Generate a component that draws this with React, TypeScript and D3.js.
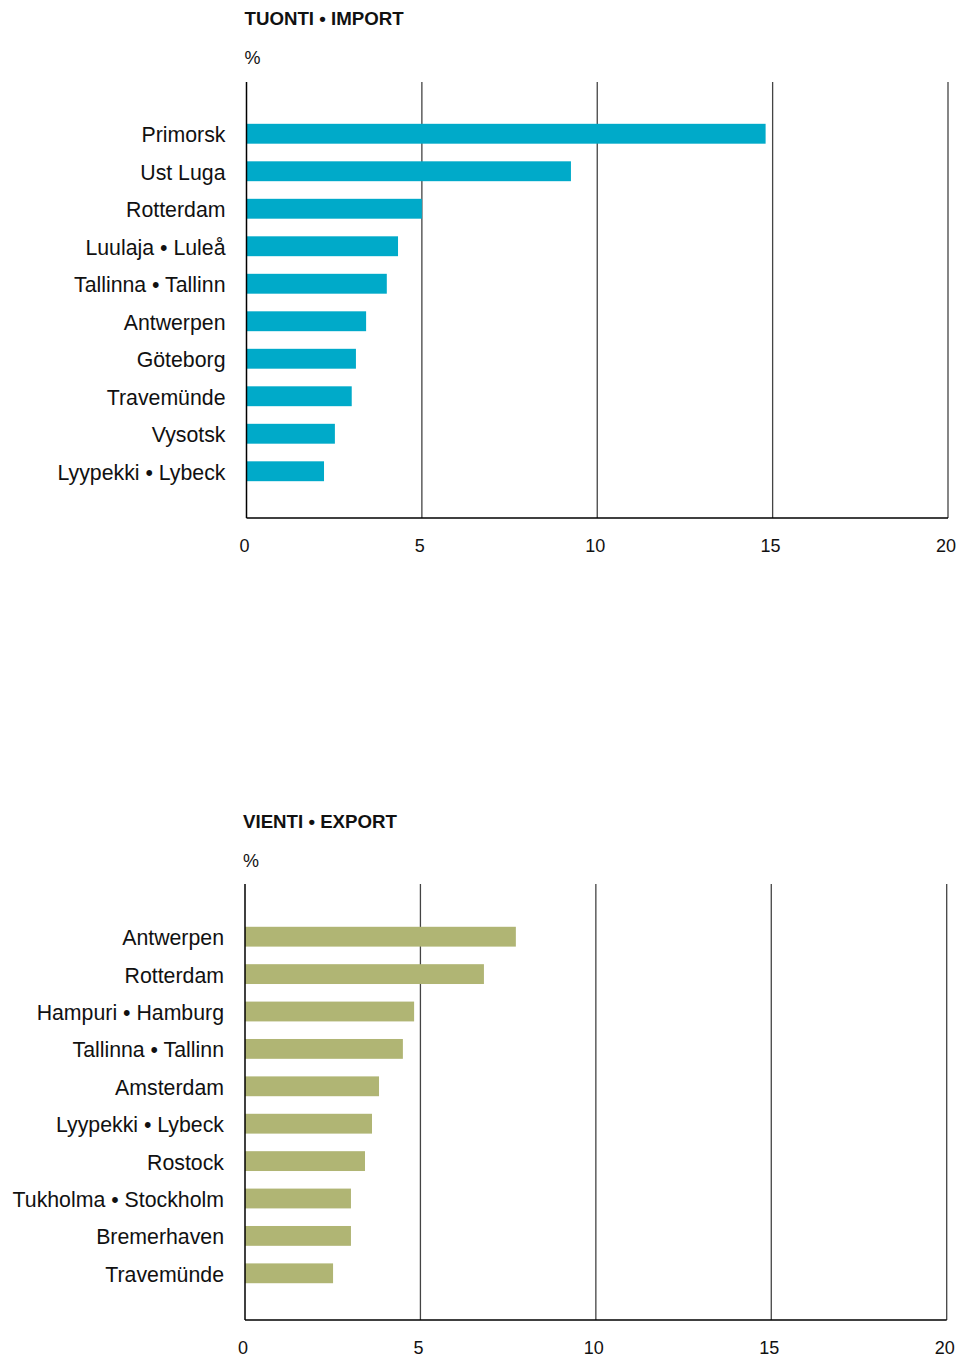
import * as d3 from 'd3';
import React, { useEffect, useRef } from 'react';

const importPorts = [
  'Primorsk',
  'Ust Luga',
  'Rotterdam',
  'Luulaja • Luleå',
  'Tallinna • Tallinn',
  'Antwerpen',
  'Göteborg',
  'Travemünde',
  'Vysotsk',
  'Lyypekki • Lybeck'
];
const importValues = [14.8, 9.25, 5.0, 4.32, 4.0, 3.41, 3.12, 3.0, 2.52, 2.21];

const exportPorts = [
  'Antwerpen',
  'Rotterdam',
  'Hampuri • Hamburg',
  'Tallinna • Tallinn',
  'Amsterdam',
  'Lyypekki • Lybeck',
  'Rostock',
  'Tukholma • Stockholm',
  'Bremerhaven',
  'Travemünde'
];
const exportValues = [7.72, 6.81, 4.82, 4.5, 3.82, 3.62, 3.42, 3.02, 3.02, 2.51];

const xTicks = [0, 5, 10, 15, 20];

const FONT = '"Liberation Sans", Arial, sans-serif';

interface PanelOpts {
  title: string;
  ports: string[];
  values: number[];
  color: string;
  top: number; // y of title baseline
  x0: number;
  x1: number;
  gridTop: number;
  bandTop: number;
  bandBottom: number;
  axisY: number;
}

const drawPanel = (svg: d3.Selection<SVGSVGElement, unknown, null, undefined>, o: PanelOpts) => {
  const g = svg.append('g');
  const x = d3.scaleLinear().domain([0, 20]).range([o.x0, o.x1]);
  const y = d3
    .scaleBand<string>()
    .domain(o.ports)
    .range([o.bandTop, o.bandBottom])
    .paddingInner(0.47)
    .paddingOuter(0.235);

  g.append('text')
    .attr('x', o.x0 - 2)
    .attr('y', o.top)
    .attr('font-family', FONT)
    .attr('font-weight', 'bold')
    .attr('font-size', 18.7)
    .attr('fill', '#111')
    .text(o.title);

  g.append('text')
    .attr('x', o.x0 - 2)
    .attr('y', o.top + 39)
    .attr('font-family', FONT)
    .attr('font-size', 18)
    .attr('fill', '#111')
    .text('%');

  // gridlines
  g.selectAll('.grid')
    .data(xTicks.slice(1))
    .enter()
    .append('line')
    .attr('x1', (d) => x(d))
    .attr('x2', (d) => x(d))
    .attr('y1', o.gridTop)
    .attr('y2', o.axisY)
    .attr('stroke', '#444')
    .attr('stroke-width', 1.3);

  // bars
  g.selectAll('.bar')
    .data(o.ports)
    .enter()
    .append('rect')
    .attr('x', x(0))
    .attr('y', (d) => y(d) as number)
    .attr('width', (_d, i) => x(o.values[i]) - x(0))
    .attr('height', y.bandwidth())
    .attr('fill', o.color);

  // category labels
  g.selectAll('.cat')
    .data(o.ports)
    .enter()
    .append('text')
    .attr('x', o.x0 - 21)
    .attr('y', (d) => (y(d) as number) + y.bandwidth() / 2 + 1)
    .attr('dy', '0.35em')
    .attr('text-anchor', 'end')
    .attr('font-family', FONT)
    .attr('font-size', 21.3)
    .attr('fill', '#111')
    .text((d) => d);

  // axes lines
  g.append('line')
    .attr('x1', x(0))
    .attr('x2', x(0))
    .attr('y1', o.gridTop)
    .attr('y2', o.axisY)
    .attr('stroke', '#000')
    .attr('stroke-width', 1.5);
  g.append('line')
    .attr('x1', x(0))
    .attr('x2', x(20))
    .attr('y1', o.axisY)
    .attr('y2', o.axisY)
    .attr('stroke', '#000')
    .attr('stroke-width', 1.5);

  // tick labels
  g.selectAll('.tick')
    .data(xTicks)
    .enter()
    .append('text')
    .attr('x', (d) => x(d) - 2)
    .attr('y', o.axisY + 34)
    .attr('text-anchor', 'middle')
    .attr('font-family', FONT)
    .attr('font-size', 18)
    .attr('fill', '#111')
    .text((d) => d);
};

const App = () => {
  const ref = useRef<SVGSVGElement>(null);

  useEffect(() => {
    const svg = d3.select(ref.current);
    svg.selectAll('*').remove();

    drawPanel(svg as any, {
      title: 'TUONTI • IMPORT',
      ports: importPorts,
      values: importValues,
      color: '#00aac9',
      top: 25,
      x0: 246.5,
      x1: 948,
      gridTop: 82,
      bandTop: 115,
      bandBottom: 490,
      axisY: 518
    });

    drawPanel(svg as any, {
      title: 'VIENTI • EXPORT',
      ports: exportPorts,
      values: exportValues,
      color: '#b0b574',
      top: 828,
      x0: 245,
      x1: 946.7,
      gridTop: 884,
      bandTop: 918,
      bandBottom: 1292,
      axisY: 1320
    });
  }, []);

  return (
    <svg
      ref={ref}
      width={958}
      height={1357}
      style={{ position: 'absolute', left: 0, top: 0, background: '#fff' }}
    />
  );
};

export default App;
